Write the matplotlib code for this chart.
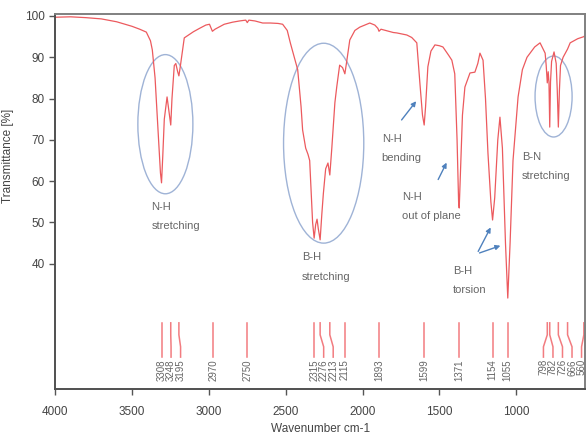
import numpy as np
import matplotlib
matplotlib.use("Agg")
import matplotlib.pyplot as plt
from matplotlib.patches import Ellipse

plt.rcParams['font.family'] = ['Liberation Sans', 'DejaVu Sans']

# IR spectrum (wavenumber cm-1, transmittance %)
wavenumber = [4000, 3900, 3800, 3700, 3600, 3500, 3450, 3407, 3380, 3368, 3350,
              3330, 3315, 3308, 3300, 3290, 3272, 3260, 3248, 3240, 3225, 3215,
              3203, 3195, 3185, 3160, 3100, 3061, 3020, 2996, 2977, 2960, 2900,
              2846, 2800, 2760, 2750, 2740, 2700, 2650, 2600, 2550, 2520, 2490,
              2470, 2440, 2422, 2400, 2390, 2370, 2355, 2344, 2335, 2325, 2315,
              2305, 2296, 2288, 2276, 2265, 2255, 2240, 2225, 2213, 2200, 2180,
              2168, 2149, 2130, 2115, 2105, 2083, 2050, 2018, 1953, 1920, 1900,
              1893, 1880, 1850, 1800, 1777, 1712, 1680, 1647, 1627, 1610, 1599,
              1590, 1575, 1555, 1529, 1500, 1477, 1440, 1419, 1400, 1385, 1375,
              1371, 1365, 1350, 1334, 1301, 1269, 1250, 1236, 1216, 1200, 1184,
              1165, 1154, 1140, 1120, 1106, 1090, 1070, 1055, 1040, 1021, 988,
              960, 930, 880, 845, 812, 805, 798, 792, 787, 782, 777, 770, 754,
              740, 733, 726, 719, 712, 695, 666, 649, 600, 560, 550]
transmittance = [99.7, 99.8, 99.6, 99.3, 98.6, 97.5, 96.8, 96.1, 94.0, 91.8, 85.0,
                 72.0, 62.0, 59.6, 66.0, 75.0, 80.4, 77.0, 73.6, 80.0, 88.0, 88.5,
                 86.5, 85.5, 88.0, 94.7, 96.2, 97.0, 97.8, 98.0, 96.3, 96.8, 98.0,
                 98.5, 98.8, 99.0, 98.4, 99.0, 98.8, 98.3, 98.3, 98.2, 98.0, 96.5,
                 93.5, 89.5, 87.0, 78.0, 72.4, 68.0, 66.5, 65.0, 58.0, 50.0, 46.2,
                 49.5, 50.8, 48.5, 45.8, 52.0, 57.0, 63.0, 64.4, 61.5, 68.0, 79.0,
                 82.8, 88.1, 87.5, 86.0, 88.5, 94.2, 96.5, 97.3, 98.3, 97.8, 97.0,
                 96.3, 96.8, 96.5, 96.0, 95.9, 95.4, 94.8, 93.5, 83.8, 76.0, 73.6,
                 78.0, 87.7, 91.5, 93.0, 92.8, 92.5, 90.5, 89.3, 86.0, 70.0, 55.0,
                 53.5, 60.0, 76.0, 82.8, 86.2, 86.4, 88.5, 91.0, 89.3, 80.0, 66.8,
                 55.0, 50.6, 56.0, 70.0, 75.5, 68.0, 45.0, 31.7, 45.0, 65.0, 80.4,
                 87.0, 90.0, 92.5, 93.5, 91.0, 88.0, 83.8, 86.5, 84.0, 73.1, 84.0,
                 89.0, 91.3, 88.5, 82.0, 73.1, 82.0, 88.0, 90.0, 92.0, 93.5, 94.5,
                 95.0, 95.4]

# labelled peak positions
peaks = [3308, 3248, 3195, 2970, 2750, 2315, 2276, 2213, 2115, 1893,
         1599, 1371, 1154, 1055, 798, 782, 726, 666, 560]

# band assignments: (text lines, x, y)
bands = [("N-H\n\nstretching", 3374, 51.5),
         ("B-H\n\nstretching", 2396, 39.2),
         ("N-H\n\nbending", 1875, 68.0),
         ("N-H\n\nout of plane", 1744, 53.8),
         ("B-H\n\ntorsion", 1412, 36.0),
         ("B-N\n\nstretching", 962, 63.6)]


def spread(pos, gap, lim):
    # push labels apart so they do not overlap
    p = list(pos)
    for i in range(1, len(p)):
        p[i] = min(p[i], p[i - 1] - gap)
    p[-1] = max(p[-1], lim)
    for i in range(len(p) - 2, -1, -1):
        p[i] = max(p[i], p[i + 1] + gap)
    return p


fig = plt.figure(figsize=(5.87, 4.36), dpi=100)
ax = fig.add_axes([0.094, 0.108, 0.903, 0.861])

ax.plot(wavenumber, transmittance, color="#ec5a5e", lw=0.9)

# peak marker sticks with labels
lab_pos = spread(peaks, 62, 575)
for pk, lp in zip(peaks, lab_pos):
    ax.plot([pk, pk, lp, lp], [25.7, 22.8, 19.9, 17.4], color="#f27c80", lw=1.1)
    ax.text(lp, 16.9, str(pk), rotation=90, ha="center", va="top",
            fontsize=7, color="#666666")

# ellipses around band groups
for cx, cy, w, h in [(3283, 73.8, 358, 33.7), (2253, 69.2, 522, 48.4),
                     (757, 80.5, 241, 19.6)]:
    ax.add_patch(Ellipse((cx, cy), w, h, fill=False, ec="#9fb3d6", lw=1.0))

for txt, x, y in bands:
    ax.text(x, y, txt, ha="left", va="center", fontsize=8,
            color="#666666", linespacing=0.95)

arrow = dict(arrowstyle="-|>", color="#4f81bd", lw=1.0, mutation_scale=7)
ax.annotate("", xy=(1640, 79.9), xytext=(1757, 74.3), arrowprops=arrow)
ax.annotate("", xy=(1445, 65.1), xytext=(1516, 59.8), arrowprops=arrow)
ax.annotate("", xy=(1158, 49.4), xytext=(1256, 42.4), arrowprops=arrow)
ax.annotate("", xy=(1086, 44.6), xytext=(1256, 42.4), arrowprops=arrow)

ax.set_xlim(4000, 551)
ax.set_ylim(9.7, 100.6)
ax.set_xticks([4000, 3500, 3000, 2500, 2000, 1500, 1000])
ax.set_yticks([40, 50, 60, 70, 80, 90, 100])
ax.tick_params(direction="out", length=4, width=1, colors="#555555",
               labelcolor="#444444", labelsize=8.5)
ax.tick_params(axis="x", pad=8)
for s in ["left", "bottom"]:
    ax.spines[s].set_color("#505050")
    ax.spines[s].set_linewidth(1.4)
for s in ["top", "right"]:
    ax.spines[s].set_color("#808080")
    ax.spines[s].set_linewidth(1.4)

ax.set_xlabel("Wavenumber cm-1", fontsize=8.5, color="#444444", labelpad=4)
ax.set_ylabel("Transmittance [%]", fontsize=8.5, color="#444444")
ax.yaxis.set_label_coords(-0.078, 0.62)

fig.savefig("out.png", dpi=100)
